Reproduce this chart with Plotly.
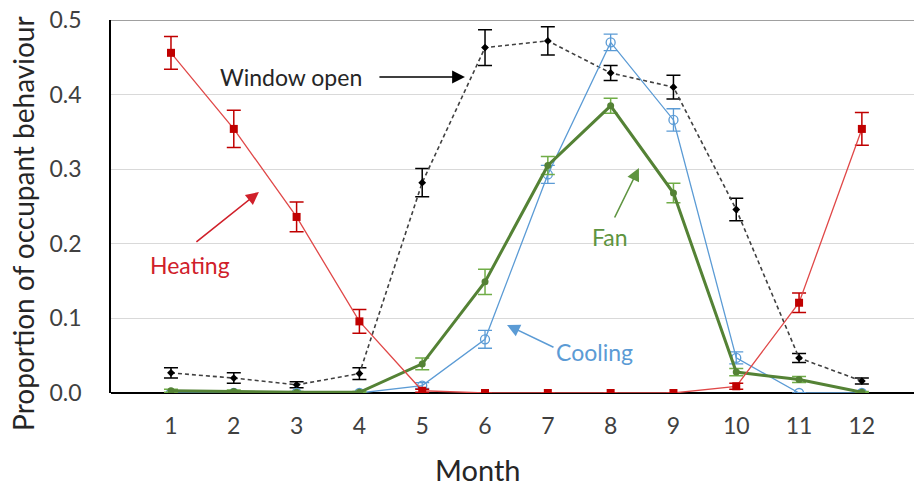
import plotly.graph_objects as go

# Monthly proportion of occupant behaviour, with error bar half-widths
months = [1, 2, 3, 4, 5, 6, 7, 8, 9, 10, 11, 12]
month_labels = [str(m) for m in months]

window_open = [0.027, 0.020, 0.011, 0.026, 0.282, 0.463, 0.472, 0.429, 0.410, 0.246, 0.047, 0.016]
window_err = [0.007, 0.007, 0.004, 0.008, 0.019, 0.024, 0.019, 0.010, 0.016, 0.015, 0.006, 0.004]

cooling = [0.0, 0.0, 0.0, 0.0, 0.010, 0.072, 0.293, 0.470, 0.366, 0.047, 0.0, 0.0]
cooling_err = [0.0, 0.0, 0.0, 0.0, 0.004, 0.012, 0.012, 0.011, 0.015, 0.008, 0.0, 0.0]

fan = [0.003, 0.002, 0.001, 0.001, 0.039, 0.149, 0.305, 0.385, 0.268, 0.028, 0.018, 0.001]
fan_err = [0.002, 0.002, 0.001, 0.001, 0.008, 0.017, 0.012, 0.010, 0.013, 0.005, 0.004, 0.001]

heating = [0.456, 0.354, 0.236, 0.096, 0.003, 0.0, 0.0, 0.0, 0.0, 0.009, 0.121, 0.354]
heating_err = [0.022, 0.025, 0.020, 0.016, 0.002, 0.0, 0.0, 0.0, 0.0, 0.004, 0.013, 0.022]

y_ticks = [0.0, 0.1, 0.2, 0.3, 0.4, 0.5]
y_tick_labels = ["0.0", "0.1", "0.2", "0.3", "0.4", "0.5"]

RED = "#C00000"
RED_LINE = "#E04848"
BLUE = "#5B9BD5"
GREEN = "#548235"
GREEN_ERR = "#70AD47"
FONT = "Lato"

fig = go.Figure()

fig.add_trace(go.Scatter(
    x=months, y=window_open, mode="lines+markers", name="Window open",
    line=dict(color="#404040", width=1.6, dash="4px,3px"),
    marker=dict(symbol="diamond", size=6, color="black"),
    error_y=dict(type="data", array=window_err, color="black", thickness=1.5, width=7),
))
fig.add_trace(go.Scatter(
    x=months, y=cooling, mode="lines+markers", name="Cooling",
    line=dict(color=BLUE, width=1.3),
    marker=dict(symbol="circle-open", size=9, color=BLUE, line=dict(width=1.3)),
    error_y=dict(type="data", array=cooling_err, color=BLUE, thickness=1.3, width=7),
))
fig.add_trace(go.Scatter(
    x=months, y=fan, mode="lines+markers", name="Fan",
    line=dict(color=GREEN, width=3),
    marker=dict(symbol="circle", size=7, color=GREEN),
    error_y=dict(type="data", array=fan_err, color=GREEN_ERR, thickness=1.5, width=7),
))
fig.add_trace(go.Scatter(
    x=months, y=heating, mode="lines+markers", name="Heating",
    line=dict(color=RED_LINE, width=1.3),
    marker=dict(symbol="square", size=8, color=RED),
    error_y=dict(type="data", array=heating_err, color=RED, thickness=1.5, width=7),
))

# Series labels with arrows pointing at the curves
labels = [
    dict(text="Window open", x=1.75, y=0.4236, color="#262626", xanchor="left"),
    dict(text="Heating", x=0.634, y=0.1716, color="#D0202A", xanchor="left"),
    dict(text="Fan", x=7.99, y=0.209, color="#5E9440", xanchor="center"),
    dict(text="Cooling", x=7.75, y=0.055, color=BLUE, xanchor="center"),
]
for lab in labels:
    fig.add_annotation(x=lab["x"], y=lab["y"], text=lab["text"], showarrow=False,
                       xanchor=lab["xanchor"], yanchor="middle",
                       font=dict(family=FONT, size=23, color=lab["color"]))

arrows = [
    dict(x=5.68, y=0.4236, ax=-87, ay=0, color="black"),
    dict(x=2.40, y=0.2694, ax=-64, ay=51, color="#D0202A"),
    dict(x=8.45, y=0.3016, ax=-25, ay=51, color="#5E9440"),
    dict(x=6.35, y=0.0912, ax=48, ay=23, color=BLUE),
]
for a in arrows:
    fig.add_annotation(x=a["x"], y=a["y"], ax=a["ax"], ay=a["ay"], text="",
                       showarrow=True, arrowhead=2, arrowsize=1.6, arrowwidth=1.6,
                       arrowcolor=a["color"], standoff=0)

# Axis titles
fig.add_annotation(x=-0.1096, y=0.456, xref="paper", yref="paper",
                   text="Proportion of occupant behaviour", textangle=-90,
                   showarrow=False, xanchor="center", yanchor="middle",
                   font=dict(family=FONT, size=28, color="#262626"))
fig.add_annotation(x=0.457, y=-0.2064, xref="paper", yref="paper",
                   text="Month", showarrow=False, xanchor="center", yanchor="middle",
                   font=dict(family=FONT, size=29, color="#262626"))

# Top border of the plot area
fig.add_shape(type="line", xref="paper", yref="y", x0=0, x1=1, y0=0.5, y1=0.5,
              line=dict(color="#808080", width=1.5), layer="above")

fig.update_layout(
    width=914, height=492,
    margin=dict(l=111, r=0, t=20, b=99),
    paper_bgcolor="white", plot_bgcolor="white",
    showlegend=False,
    font=dict(family=FONT, color="#404040"),
    xaxis=dict(
        range=[0.045, 12.83], tickmode="array", tickvals=months, ticktext=month_labels,
        showgrid=False, zeroline=False, showline=False, ticks="",
        tickfont=dict(family=FONT, size=23, color="#404040"),
        ticklabelstandoff=17,
    ),
    yaxis=dict(
        range=[0, 0.5], tickmode="array", tickvals=y_ticks, ticktext=y_tick_labels,
        showgrid=True, gridcolor="#D9D9D9", gridwidth=1,
        zeroline=True, zerolinecolor="black", zerolinewidth=1.5,
        showline=True, linecolor="black", linewidth=1.5, ticks="",
        tickfont=dict(family=FONT, size=23, color="#404040"),
        ticklabelstandoff=23,
    ),
)

fig.write_html("out.html")
